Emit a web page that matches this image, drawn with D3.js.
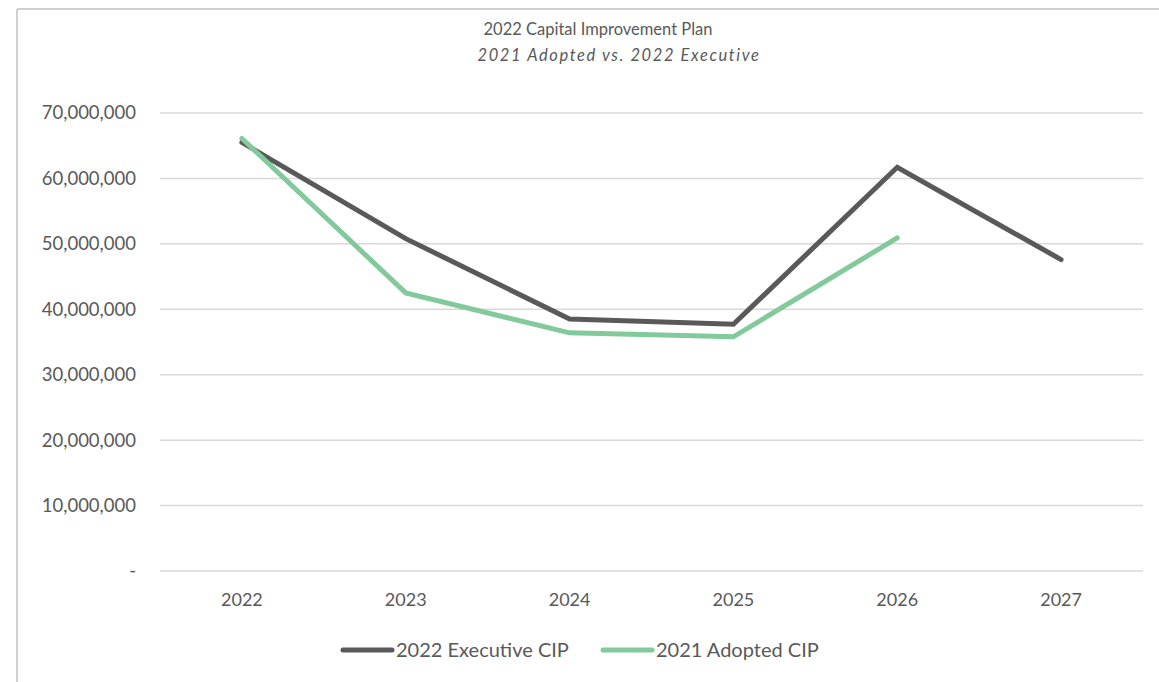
<!DOCTYPE html>
<html lang="en">
<head>
<meta charset="utf-8">
<title>2022 Capital Improvement Plan</title>
<script src="https://cdn.jsdelivr.net/npm/d3@7"></script>
<style>
  body { margin: 0; background: #fff; }
  svg text { font-family: Lato, "Open Sans", sans-serif; fill: #595959; }
</style>
</head>
<body>
<div id="chart"></div>
<script>
// data
var years = ["2022", "2023", "2024", "2025", "2026", "2027"];
var executive = [65500000, 50800000, 38500000, 37700000, 61700000, 47600000];
var adopted = [66100000, 42500000, 36400000, 35800000, 50900000];
var yTicks = [0, 10000000, 20000000, 30000000, 40000000, 50000000, 60000000, 70000000];

var W = 1159, H = 682;
var m = {top: 113, left: 160, right: 16, bottom: 111};

var svg = d3.select("#chart").append("svg")
  .attr("width", W)
  .attr("height", H);

// chart frame (only top and left edges show)
svg.append("line").attr("x1", 17).attr("x2", W).attr("y1", 9).attr("y2", 9)
  .style("stroke", "#d0d0d0").style("stroke-width", 2);
svg.append("line").attr("x1", 17).attr("x2", 17).attr("y1", 9).attr("y2", H)
  .style("stroke", "#d0d0d0").style("stroke-width", 2);

var x = d3.scaleBand().domain(years).range([m.left, W - m.right]);
var y = d3.scaleLinear().domain([0, 70000000]).range([H - m.bottom, m.top]);
var cx = function(i) { return x(years[i]) + x.bandwidth() / 2; };

// gridlines
svg.append("g").selectAll("line").data(yTicks).enter().append("line")
  .attr("x1", m.left).attr("x2", W - m.right)
  .attr("y1", function(d) { return y(d); })
  .attr("y2", function(d) { return y(d); })
  .style("stroke", "#d9d9d9").style("stroke-width", 1.5);

// y labels
var fmt = d3.format(",");
svg.append("g").selectAll("text").data(yTicks).enter().append("text")
  .attr("x", 136)
  .attr("y", function(d) { return y(d); })
  .attr("dy", "0.35em")
  .attr("text-anchor", "end")
  .style("font-size", "18.5px")
  .text(function(d) { return d === 0 ? "-" : fmt(d); });

// x labels
svg.append("g").selectAll("text").data(years).enter().append("text")
  .attr("x", function(d) { return x(d) + x.bandwidth() / 2; })
  .attr("y", H - m.bottom + 29)
  .attr("dy", "0.35em")
  .attr("text-anchor", "middle")
  .style("font-size", "18px")
  .text(function(d) { return d; });

var line = d3.line()
  .x(function(d, i) { return cx(i); })
  .y(function(d) { return y(d); });

svg.append("path").datum(executive)
  .attr("d", line)
  .style("fill", "none").style("stroke", "#595959").style("stroke-width", 5)
  .style("stroke-linecap", "round").style("stroke-linejoin", "miter");

svg.append("path").datum(adopted)
  .attr("d", line)
  .style("fill", "none").style("stroke", "#82ca9c").style("stroke-width", 5)
  .style("stroke-linecap", "round").style("stroke-linejoin", "miter");

// title
svg.append("text").attr("x", 598).attr("y", 35).attr("text-anchor", "middle")
  .style("font-size", "16.5px").text("2022 Capital Improvement Plan");
svg.append("text").attr("x", 619).attr("y", 61).attr("text-anchor", "middle")
  .style("font-size", "16.5px").style("font-style", "italic")
  .style("letter-spacing", "1.6px")
  .text("2021 Adopted vs. 2022 Executive");

// legend
var legend = [
  {name: "2022 Executive CIP", color: "#595959", x: 343},
  {name: "2021 Adopted CIP", color: "#82ca9c", x: 603}
];
var lg = svg.append("g").selectAll("g").data(legend).enter().append("g");
lg.append("line")
  .attr("x1", function(d) { return d.x; })
  .attr("x2", function(d) { return d.x + 49; })
  .attr("y1", 650).attr("y2", 650)
  .style("stroke", function(d) { return d.color; })
  .style("stroke-width", 5).style("stroke-linecap", "round");
lg.append("text")
  .attr("x", function(d) { return d.x + 53; })
  .attr("y", 650).attr("dy", "0.35em")
  .style("font-size", "20px")
  .text(function(d) { return d.name; });
</script>
</body>
</html>
